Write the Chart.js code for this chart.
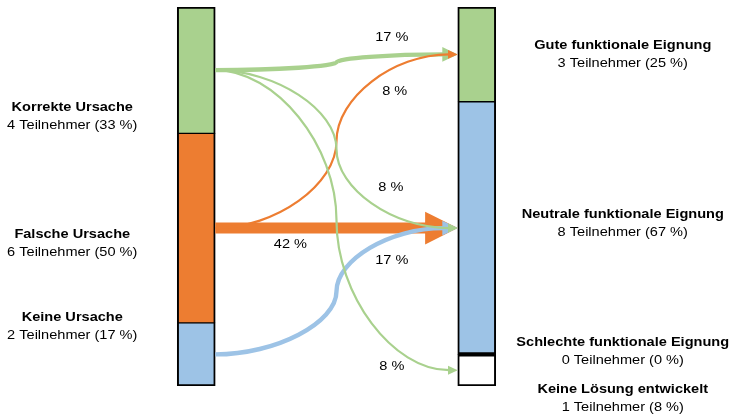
<!DOCTYPE html>
<html>
<head>
<meta charset="utf-8">
<script src="https://cdn.jsdelivr.net/npm/chart.js@4.4.1/dist/chart.umd.min.js"></script>
<style>
  body { margin: 0; background: #fff; }
  #wrap { width: 735px; height: 416px; }
</style>
</head>
<body>
<div id="wrap"><canvas id="myChart"></canvas></div>
<script>
let sides = ["Ursache", "Eignung"];
let total = 12;

let causes = ["Korrekte Ursache", "Falsche Ursache", "Keine Ursache"];
let causeCounts = [4, 6, 2];

let results = ["Gute funktionale Eignung", "Neutrale funktionale Eignung", "Schlechte funktionale Eignung", "Keine Lösung entwickelt"];
let resultCounts = [3, 8, 0, 1];

// flows cause -> result (in drawing order)
let flowFrom = [1, 0, 1, 2, 0, 0];
let flowTo = [1, 0, 0, 1, 1, 3];
let flowCount = [5, 2, 1, 2, 1, 1];

let causeColors = ["#a9d18e", "#ed7d31", "#9dc3e6"];
let resultColors = ["#a9d18e", "#9dc3e6", "#ffffff", "#ffffff"];

// where the text goes (y in scale units, flow labels relative to arrow tip)
let causeLabelY = [3.45, 7.5, 10.1];
let resultLabelY = [1.5, 6.85, 10.9, 12.4];
let flowLabelX = [0.31, 0.728, 0.74, 0.728, 0.724, 0.728];
let flowLabelDy = [16.5, -16.5, 37.5, 32.5, -40.5, -3.5];

const pct = (n) => Math.round(n / total * 100) + " %";

let datasets = [];
causes.forEach((c, i) => {
  datasets.push({
    label: c,
    data: [causeCounts[i], null],
    backgroundColor: causeColors[i],
    borderColor: "#000",
    borderWidth: { top: i === 0 ? 2 : 1, bottom: i === causes.length - 1 ? 2 : 1, left: 2, right: 2 },
    borderSkipped: false,
    barThickness: 38,
  });
});
results.forEach((r, i) => {
  let last = i === results.length - 1;
  datasets.push({
    label: r,
    data: [null, resultCounts[i]],
    backgroundColor: resultColors[i],
    borderColor: "#000",
    borderWidth: {
      top: i === 0 ? 2 : (resultCounts[i - 1] === 0 ? 2.5 : 1),
      bottom: last ? 2 : (resultCounts[i + 1] === 0 ? 2.5 : 1),
      left: 2,
      right: 2,
    },
    borderSkipped: false,
    barThickness: 38,
  });
});

// text is a bit wide in the original, so stretch it sideways
function wideText(ctx, txt, x, y, bold) {
  ctx.save();
  ctx.font = (bold ? "bold " : "") + "13px 'Liberation Sans', Arial, sans-serif";
  ctx.translate(x, y);
  ctx.scale(1.12, 1);
  ctx.fillText(txt, 0, 0);
  ctx.restore();
}

const flowPlugin = {
  id: "flows",
  afterDatasetsDraw(chart) {
    const ctx = chart.ctx;
    const yScale = chart.scales.y;
    const seg = (ds, idx) => {
      const el = chart.getDatasetMeta(ds).data[idx];
      return { x: el.x, w: el.width, mid: (el.y + el.base) / 2 };
    };
    ctx.save();
    ctx.lineCap = "butt";
    flowFrom.forEach((f, k) => {
      const a = seg(f, 0);
      const b = seg(causes.length + flowTo[k], 1);
      const x0 = a.x + a.w / 2, y0 = a.mid;
      const x1 = b.x - b.w / 2, y1 = b.mid;
      const w = 2.2 * flowCount[k];
      const len = 4 + 2.6 * w, half = 1.35 * w + 1.5;
      const xe = x1 - len + 1;
      const xm = (x0 + x1) / 2, ym = (y0 + y1) / 2;
      ctx.strokeStyle = causeColors[f];
      ctx.fillStyle = causeColors[f];
      ctx.lineWidth = w;
      // curved connector: two quarter bends meeting in the middle
      ctx.beginPath();
      ctx.moveTo(x0, y0);
      ctx.bezierCurveTo((x0 + xm) / 2, y0, xm, y0 + (y1 - y0) / 4, xm, ym);
      ctx.bezierCurveTo(xm, y0 + 3 * (y1 - y0) / 4, (xm + xe) / 2, y1, xe, y1);
      ctx.stroke();
      ctx.beginPath();
      ctx.moveTo(x1 - len, y1 - half);
      ctx.lineTo(x1, y1);
      ctx.lineTo(x1 - len, y1 + half);
      ctx.closePath();
      ctx.fill();
    });

    ctx.fillStyle = "#000";
    ctx.textAlign = "center";
    ctx.textBaseline = "middle";
    flowFrom.forEach((f, k) => {
      const a = seg(f, 0);
      const b = seg(causes.length + flowTo[k], 1);
      const x0 = a.x + a.w / 2, x1 = b.x - b.w / 2;
      wideText(ctx, pct(flowCount[k]), x0 + (x1 - x0) * flowLabelX[k], b.mid + flowLabelDy[k], false);
    });

    const left = seg(0, 0), right = seg(causes.length, 1);
    const lx = left.x - left.w / 2 - 105;
    const rx = right.x + right.w / 2 + 127;
    const side = (names, counts, ys, x) => {
      names.forEach((n, i) => {
        const y = yScale.getPixelForValue(ys[i]);
        wideText(ctx, n, x, y - 9, true);
        wideText(ctx, counts[i] + " Teilnehmer (" + pct(counts[i]) + ")", x, y + 9, false);
      });
    };
    side(causes, causeCounts, causeLabelY, lx);
    side(results, resultCounts, resultLabelY, rx);
    ctx.restore();
  },
};

let chart = new Chart(document.getElementById("myChart").getContext("2d"), {
  type: "bar",
  data: { labels: sides, datasets: datasets },
  options: {
    responsive: true,
    maintainAspectRatio: false,
    animation: false,
    layout: { padding: { left: 56, right: 118, top: 7, bottom: 30 } },
    plugins: { legend: { display: false }, tooltip: { enabled: false } },
    scales: {
      x: { stacked: true, display: false, grid: { display: false } },
      y: { stacked: true, display: false, min: 0, max: total, reverse: true, grid: { display: false } },
    },
  },
  plugins: [flowPlugin],
});
</script>
</body>
</html>
